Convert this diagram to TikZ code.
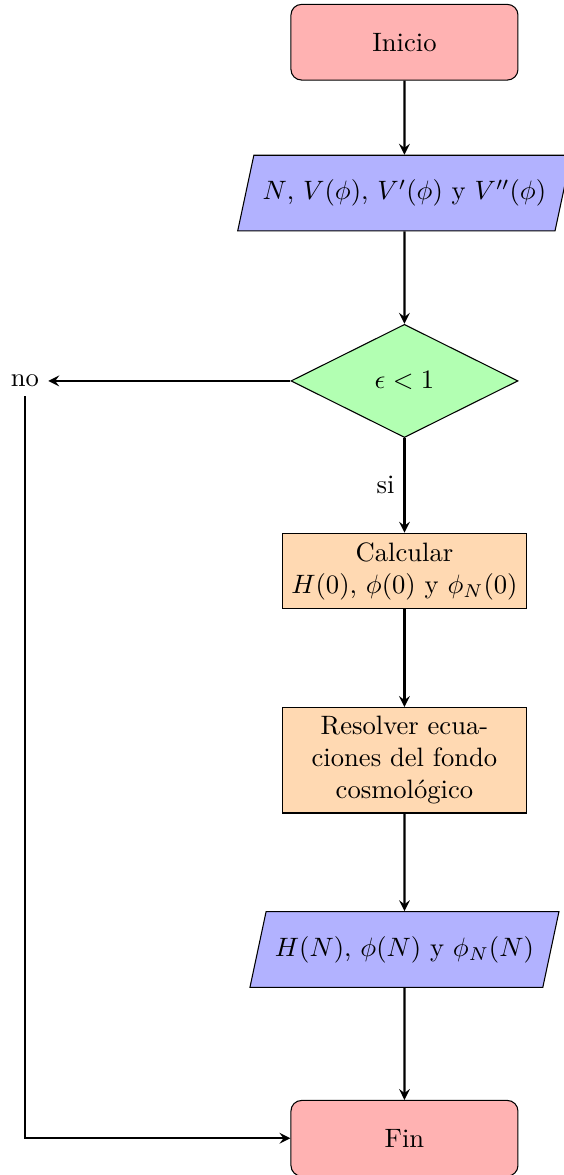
\documentclass[tikz,border=0pt]{standalone}
\usepackage{amsmath}
\usetikzlibrary{arrows,shapes.geometric,positioning}

\begin{document}
\begin{tikzpicture}[
    >=stealth,
    startstop/.style={rectangle, rounded corners, draw=black, fill=red!30,
                      minimum width=3cm, minimum height=1cm, align=center},
    io/.style       ={trapezium, trapezium left angle=70,
                      trapezium right angle=110, trapezium stretches=true,
                      draw=black, fill=blue!30,
                      minimum width=3cm, minimum height=1cm, align=center},
    process/.style  ={rectangle, draw=black, fill=orange!30,
                      minimum width=3cm, minimum height=1cm,
                      text width=3cm, align=center},
    decision/.style ={diamond, draw=black, fill=green!30,
                      minimum width=3cm, minimum height=1cm, align=center},
    arr/.style      ={->, thick}
]
\useasboundingbox (-5.345,0.558) rectangle (2.108,-14.97);
% --- main column ------------------------------------------------------
\node[startstop]                      (start) {Inicio};
\node[io, below=0.98cm of start]      (in)    {$N$, $V(\phi)$, $V'(\phi)$ y $V''(\phi)$};
\node[decision, below=1.22cm of in]   (dec)   {$\epsilon<1$};
\node[process, below=1.25cm of dec]   (calc)  {Calcular\\ $H(0)$, $\phi(0)$ y $\phi_N(0)$};
\node[process, below=1.29cm of calc]  (solve) {Resolver ecuaciones del fondo cosmológico};
\node[io, below=1.29cm of solve]      (out)   {$H(N)$, $\phi(N)$ y $\phi_N(N)$};
\node[startstop, below=1.48cm of out] (stop)  {Fin};
% --- branch -----------------------------------------------------------
\node[left=3.2cm of dec]              (no)    {no};
% --- arrows -----------------------------------------------------------
\draw[arr] (start) -- (in);
\draw[arr] (in) -- (dec);
\draw[arr] (dec) -- node[left]{si} (calc);
\draw[arr] (dec) -- (no);
\draw[arr] (calc) -- (solve);
\draw[arr] (solve) -- (out);
\draw[arr] (out) -- (stop);
\draw[arr] (no) |- (stop);
\end{tikzpicture}
\end{document}
